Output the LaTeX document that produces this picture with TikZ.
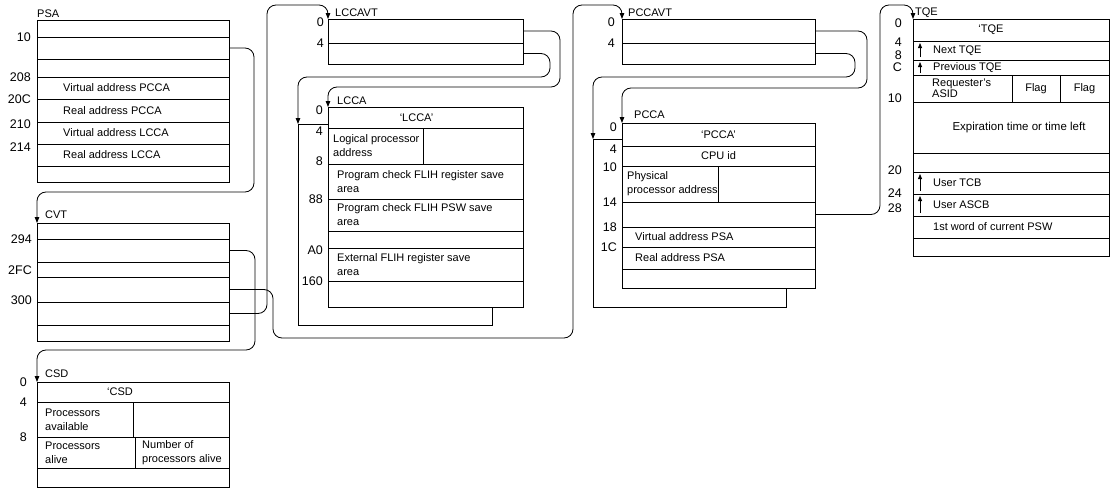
\documentclass[tikz,border=0pt]{standalone}
\usepackage{fontspec}
\setmainfont{Liberation Sans}
\usetikzlibrary{arrows.meta,positioning}
\newcommand\blkfont{\fontsize{11}{14}\selectfont}
\newcommand\offfont{\fontsize{12.5}{14}\selectfont}
\begin{document}
\begin{tikzpicture}[x=1pt,y=-1pt,
  fld/.style={draw,line width=1pt,fill=white,anchor=north west,inner sep=0pt,outer sep=0pt,font=\blkfont},
  row/.style args={#1x#2}{fld,minimum width=#1pt,minimum height=#2pt},
  txt/.style={anchor=west,align=left,inner sep=0pt,font=\blkfont},
  off/.style={anchor=east,inner sep=0pt,font=\offfont},
  title/.style={anchor=base west,inner sep=0pt,font=\blkfont},
  link/.style={line width=0.85pt,rounded corners=9pt,-{Triangle[length=6pt,width=4.5pt]}},
  ptr/.style={line width=0.8pt,-{Triangle[length=5pt,width=4pt]}}]
  \useasboundingbox (0,0) rectangle (1110,488);

  \node[row=192x17] (psa1) at (37,20) {};
  \node[row=192x22] (psa2) at (psa1.south west) {};
  \node[row=192x18] (psa3) at (psa2.south west) {};
  \node[row=192x22] (psa4) at (psa3.south west) {};
  \node[row=192x23] (psa5) at (psa4.south west) {};
  \node[row=192x22] (psa6) at (psa5.south west) {};
  \node[row=192x22] (psa7) at (psa6.south west) {};
  \node[row=192x16] (psa8) at (psa7.south west) {};
  \node[title] (psa) at ([yshift=3pt]psa1.north west) {PSA};
  \node[txt] (vpcca) at ([xshift=26pt]psa4.west) {Virtual address PCCA};
  \node[txt] (rpcca) at ([xshift=26pt]psa5.west) {Real address PCCA};
  \node[txt] (vlcca) at ([xshift=26pt]psa6.west) {Virtual address LCCA};
  \node[txt] (rlcca) at ([xshift=26pt]psa7.west) {Real address LCCA};
  \node[off] (o-psa10) at ([xshift=-6pt]psa2.north west) {10};
  \node[off] (o-psa208) at ([xshift=-6pt]psa4.north west) {208};
  \node[off] (o-psa20c) at ([xshift=-6pt]psa5.north west) {20C};
  \node[off] (o-psa210) at ([xshift=-6pt,yshift=-2pt]psa6.north west) {210};
  \node[off] (o-psa214) at ([xshift=-6pt,yshift=-3pt]psa7.north west) {214};

  \node[row=192x16] (cvt1) at (37,223) {};
  \node[row=192x23] (cvt2) at (cvt1.south west) {};
  \node[row=192x15] (cvt3) at (cvt2.south west) {};
  \node[row=192x25] (cvt4) at (cvt3.south west) {};
  \node[row=192x23] (cvt5) at (cvt4.south west) {};
  \node[row=192x16] (cvt6) at (cvt5.south west) {};
  \node[title] (cvt) at ([xshift=8pt,yshift=5pt]cvt1.north west) {CVT};
  \node[off] (o-cvt294) at ([xshift=-5pt]cvt2.north west) {294};
  \node[off] (o-cvt2fc) at ([xshift=-5pt,yshift=7pt]cvt4.north west) {2FC};
  \node[off] (o-cvt300) at ([xshift=-5pt,yshift=2pt]cvt5.north west) {300};

  \node[row=192x20] (csd1) at (37,382) {};
  \node[row=96x35] (csd2a) at (csd1.south west) {};
  \node[row=96x35] (csd2b) at (csd2a.north east) {};
  \node[row=98x31] (csd3a) at (csd2a.south west) {};
  \node[row=94x31] (csd3b) at (csd3a.north east) {};
  \node[row=192x19] (csd4) at (csd3a.south west) {};
  \node[title] (csd) at ([xshift=8pt,yshift=5pt]csd1.north west) {CSD};
  \node[txt,anchor=center] (tcsd) at ([xshift=-13pt]csd1.center) {‘CSD};
  \node[txt] (tpavail) at ([xshift=8pt]csd2a.west) {Processors\\available};
  \node[txt] (tpalive) at ([xshift=8pt]csd3a.west) {Processors\\alive};
  \node[txt] (tpnum) at ([xshift=7pt]csd3b.west) {Number of\\processors alive};
  \node[off] (o-csd0) at ([xshift=-10pt]csd1.north west) {0};
  \node[off] (o-csd4) at ([xshift=-10pt]csd2a.north west) {4};
  \node[off] (o-csd8) at ([xshift=-10pt]csd3a.north west) {8};

  \node[row=195x24] (lccavt1) at (328,19) {};
  \node[row=195x21] (lccavt2) at (lccavt1.south west) {};
  \node[title] (lccavt) at ([xshift=7pt,yshift=3pt]lccavt1.north west) {LCCAVT};
  \node[off] (o-lccavt0) at ([xshift=-4pt,yshift=-3pt]lccavt1.north west) {0};
  \node[off] (o-lccavt4) at ([xshift=-4pt]lccavt2.north west) {4};

  \node[row=194x201] (lccab) at (298,124) {};
  \node[row=195x21] (lcca1) at (328,107) {};
  \node[row=95x36] (lcca2a) at (lcca1.south west) {};
  \node[row=100x36] (lcca2b) at (lcca2a.north east) {};
  \node[row=195x35] (lcca3) at (lcca2a.south west) {};
  \node[row=195x32] (lcca4) at (lcca3.south west) {};
  \node[row=195x17] (lcca5) at (lcca4.south west) {};
  \node[row=195x33] (lcca6) at (lcca5.south west) {};
  \node[row=195x26] (lcca7) at (lcca6.south west) {};
  \node[title] (lcca) at ([xshift=9pt,yshift=3pt]lcca1.north west) {LCCA};
  \node[txt,anchor=center] (tlcca) at ([xshift=-9pt]lcca1.center) {‘LCCA’};
  \node[txt] (tlog) at ([xshift=5pt]lcca2a.west) {Logical processor\\address};
  \node[txt] (tpcreg) at ([xshift=9pt]lcca3.west) {Program check FLIH register save\\area};
  \node[txt] (tpcpsw) at ([xshift=9pt]lcca4.west) {Program check FLIH PSW save\\area};
  \node[txt] (textreg) at ([xshift=9pt]lcca6.west) {External FLIH register save\\area};
  \node[off] (o-lcca0) at ([xshift=-5pt,yshift=-3pt]lcca1.north west) {0};
  \node[off] (o-lcca4) at ([xshift=-5pt,yshift=-3pt]lcca2a.north west) {4};
  \node[off] (o-lcca8) at ([xshift=-5pt,yshift=3pt]lcca3.north west) {8};
  \node[off] (o-lcca88) at ([xshift=-5pt]lcca4.north west) {88};
  \node[off] (o-lccaa0) at ([xshift=-5pt,yshift=-2pt]lcca6.north west) {A0};
  \node[off] (o-lcca160) at ([xshift=-5pt]lcca7.north west) {160};

  \node[row=193x24] (pccavt1) at (622,19) {};
  \node[row=193x21] (pccavt2) at (pccavt1.south west) {};
  \node[title] (pccavt) at ([xshift=6pt,yshift=3pt]pccavt1.north west) {PCCAVT};
  \node[off] (o-pccavt0) at ([xshift=-7pt,yshift=-3pt]pccavt1.north west) {0};
  \node[off] (o-pccavt4) at ([xshift=-7pt]pccavt2.north west) {4};

  \node[row=193x168] (pccab) at (593,139) {};
  \node[row=193x23] (pcca1) at (622,123) {‘PCCA’};
  \node[row=193x20] (pcca2) at (pcca1.south west) {CPU id};
  \node[row=96x36] (pcca3a) at (pcca2.south west) {};
  \node[row=97x36] (pcca3b) at (pcca3a.north east) {};
  \node[row=193x25] (pcca4) at (pcca3a.south west) {};
  \node[row=193x20] (pcca5) at (pcca4.south west) {};
  \node[row=193x22] (pcca6) at (pcca5.south west) {};
  \node[row=193x19] (pcca7) at (pcca6.south west) {};
  \node[title] (pcca) at ([xshift=12pt,yshift=5pt]pcca1.north west) {PCCA};
  \node[txt] (tphys) at ([xshift=5pt]pcca3a.west) {Physical\\processor address};
  \node[txt] (tvpsa) at ([xshift=13pt]pcca5.west) {Virtual address PSA};
  \node[txt] (trpsa) at ([xshift=13pt]pcca6.west) {Real address PSA};
  \node[off] (o-pcca0) at ([xshift=-5pt,yshift=-4pt]pcca1.north west) {0};
  \node[off] (o-pcca4) at ([xshift=-5pt,yshift=-3pt]pcca2.north west) {4};
  \node[off] (o-pcca10) at ([xshift=-5pt,yshift=-1pt]pcca3a.north west) {10};
  \node[off] (o-pcca14) at ([xshift=-5pt]pcca4.north west) {14};
  \node[off] (o-pcca18) at ([xshift=-5pt]pcca5.north west) {18};
  \node[off] (o-pcca1c) at ([xshift=-5pt]pcca6.north west) {1C};

  \node[row=196x22] (tqe1) at (913,19) {};
  \node[row=196x19] (tqe2) at (tqe1.south west) {};
  \node[row=196x15] (tqe3) at (tqe2.south west) {};
  \node[row=99x27] (tqe4a) at (tqe3.south west) {};
  \node[row=48x27] (tqe4b) at (tqe4a.north east) {Flag};
  \node[row=49x27] (tqe4c) at (tqe4b.north east) {Flag};
  \node[row=196x51] (tqe5) at (tqe4a.south west) {};
  \node[row=196x19] (tqe6) at (tqe5.south west) {};
  \node[row=196x22] (tqe7) at (tqe6.south west) {};
  \node[row=196x22] (tqe8) at (tqe7.south west) {};
  \node[row=196x22] (tqe9) at (tqe8.south west) {};
  \node[row=196x18] (tqe10) at (tqe9.south west) {};
  \node[title] (tqe) at ([xshift=2pt,yshift=4pt]tqe1.north west) {TQE};
  \node[txt,anchor=center] (ttqe) at ([xshift=-20pt]tqe1.center) {‘TQE};
  \node[txt] (tnext) at ([xshift=20pt]tqe2.west) {Next TQE};
  \node[txt] (tprev) at ([xshift=20pt]tqe3.west) {Previous TQE};
  \node[txt,font=\fontsize{11}{11.5}\selectfont] (treq) at ([xshift=19pt]tqe4a.west) {Requester’s\\ASID};
  \node[txt,anchor=center,font=\fontsize{11.5}{14}\selectfont] (texp) at ([xshift=8pt]tqe5.center) {Expiration time or time left};
  \node[txt] (tutcb) at ([xshift=20pt]tqe7.west) {User TCB};
  \node[txt] (tuascb) at ([xshift=20pt]tqe8.west) {User ASCB};
  \node[txt] (tpsw) at ([xshift=20pt]tqe9.west) {1st word of current PSW};
  \draw[ptr] ([xshift=7pt,yshift=3pt]tqe2.south west) -- ([xshift=7pt,yshift=-2pt]tqe2.north west);
  \draw[ptr] ([xshift=7pt,yshift=2pt]tqe3.south west) -- ([xshift=7pt,yshift=-2pt]tqe3.north west);
  \draw[ptr] ([xshift=7pt,yshift=3pt]tqe7.south west) -- ([xshift=7pt,yshift=-2pt]tqe7.north west);
  \draw[ptr] ([xshift=7pt,yshift=3pt]tqe8.south west) -- ([xshift=7pt,yshift=-2pt]tqe8.north west);
  \node[off] (o-tqe0) at ([xshift=-11pt,yshift=-4pt]tqe1.north west) {0};
  \node[off] (o-tqe4) at ([xshift=-11pt,yshift=-1pt]tqe2.north west) {4};
  \node[off] (o-tqe8) at ([xshift=-11pt,yshift=5pt]tqe3.north west) {8};
  \node[off] (o-tqec) at ([xshift=-11pt,yshift=8pt]tqe4a.north west) {C};
  \node[off] (o-tqe10) at ([xshift=-11pt,yshift=4pt]tqe5.north west) {10};
  \node[off] (o-tqe20) at ([xshift=-11pt,yshift=2pt]tqe7.north west) {20};
  \node[off] (o-tqe24) at ([xshift=-11pt,yshift=1pt]tqe8.north west) {24};
  \node[off] (o-tqe28) at ([xshift=-11pt,yshift=8pt]tqe9.north west) {28};

  \draw[link] (psa2.east) -| (254,192) -| (cvt1.north west);
  \draw[link] (cvt2.east) -| (255,350) -| (csd1.north west);
  \draw[link] (cvt5.east) -| (267,5) -| (lccavt1.north west);
  \draw[link] (cvt4.east) -| (273,338) -| (573,5) -| (pccavt1.north west);
  \draw[link] (lccavt1.east) -| (560,87) -| (lcca1.north west);
  \draw[link] (lccavt2.east) -| (550,77) -| (lccab.north west);
  \draw[link] (pccavt1.east) -| (867,88) -| (pcca1.north west);
  \draw[link] (pccavt2.east) -| (855,77) -| (pccab.north west);
  \draw[link] (pcca4.east) -| (880,5) -| (tqe1.north west);
\end{tikzpicture}
\end{document}
